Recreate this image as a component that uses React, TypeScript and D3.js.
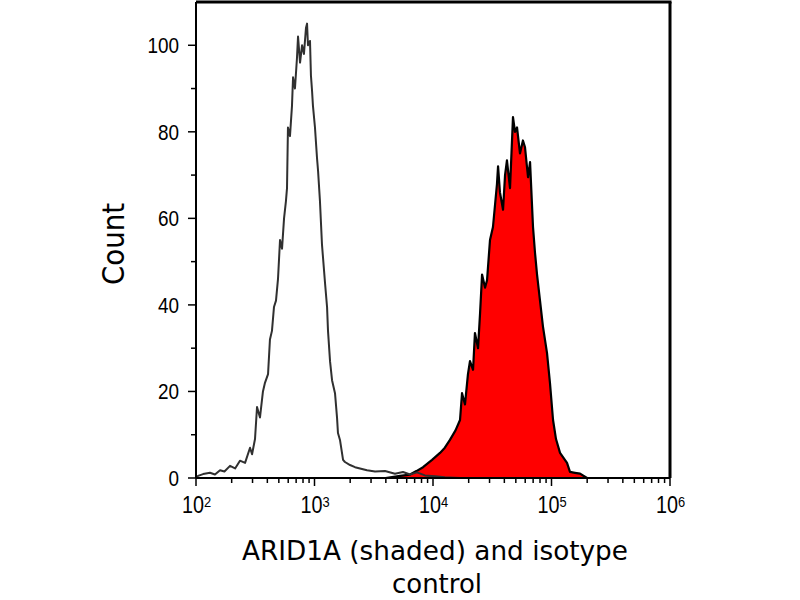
import React from "react";
import * as d3 from "d3";

// Isotype control histogram: log10(intensity), count
const isoExp = [2.0, 2.017, 2.06, 2.118, 2.16, 2.203, 2.24, 2.287, 2.33, 2.371, 2.414, 2.456, 2.473, 2.498, 2.515, 2.54, 2.565, 2.582, 2.608, 2.624, 2.641, 2.658, 2.675, 2.692, 2.709, 2.726, 2.743, 2.759, 2.768, 2.776, 2.793, 2.81, 2.819, 2.835, 2.852, 2.861, 2.878, 2.895, 2.911, 2.928, 2.937, 2.945, 2.962, 2.97, 2.979, 2.987, 3.004, 3.021, 3.03, 3.046, 3.063, 3.089, 3.106, 3.114, 3.131, 3.148, 3.173, 3.19, 3.198, 3.215, 3.241, 3.257, 3.3, 3.342, 3.384, 3.443, 3.511, 3.595, 3.679, 3.747, 3.806, 3.865, 3.932, 4.017, 4.1, 4.228, 5.0, 6.0];
const isoCount = [0, 0.5, 0.9, 1.2, 0.8, 1.8, 1.5, 2.8, 2.2, 4, 3.5, 7, 5.5, 9, 16.4, 14, 20, 22, 24, 32, 34, 39.5, 41, 46, 55, 53, 60, 64, 67, 81, 79, 86, 92.6, 90, 97, 102, 96, 100, 98, 104, 105, 100, 101, 93, 89.6, 86, 81, 74, 71, 64, 54, 45, 39.5, 34, 27, 22.6, 19.6, 14, 10.4, 8.8, 4.2, 3.7, 3, 2.5, 2.2, 1.8, 1.5, 1.6, 1.0, 1.4, 0.8, 1.3, 0.6, 0.4, 0.2, 0, 0, 0];

// ARID1A (shaded) histogram: log10(intensity), count
const argExp = [3.6, 3.722, 3.806, 3.86, 3.916, 3.992, 4.059, 4.1, 4.143, 4.19, 4.228, 4.245, 4.27, 4.295, 4.312, 4.338, 4.354, 4.38, 4.397, 4.414, 4.439, 4.456, 4.481, 4.506, 4.54, 4.549, 4.565, 4.591, 4.608, 4.624, 4.65, 4.675, 4.692, 4.709, 4.734, 4.759, 4.776, 4.802, 4.819, 4.844, 4.861, 4.878, 4.903, 4.928, 4.962, 4.987, 5.013, 5.038, 5.072, 5.131, 5.156, 5.198, 5.241, 5.3];
const argCount = [0, 0.5, 0.8, 1.6, 2.5, 4.2, 5.8, 7, 8.8, 11, 13.4, 19.6, 17, 24, 27, 25, 33.5, 30, 38, 47, 44, 45.7, 55, 58, 68, 72, 66, 62, 70, 73.4, 67, 83.4, 80, 81, 75, 78, 76.5, 69.5, 73, 58, 52, 47, 41, 35, 28.9, 22, 13.4, 9, 5.8, 3.5, 1.4, 1.2, 1, 0];

const yTicks = [0, 20, 40, 60, 80, 100];
const yMinor = [10, 30, 50, 70, 90];
const xDecades = [2, 3, 4, 5, 6];

const xTitle1 = "ARID1A (shaded) and isotype";
const xTitle2 = "control";
const yTitle = "Count";

export default function App() {
  const W = 800, H = 600;
  const left = 196, right = 670, top = 2, bottom = 478;
  const x = d3.scaleLog().domain([1e2, 1e6]).range([left, right]);
  const y = d3.scaleLinear().domain([0, 110]).range([bottom, top]);

  const iso = isoExp.map((e, i) => [10 ** e, isoCount[i]] as [number, number]);
  const arg = argExp.map((e, i) => [10 ** e, argCount[i]] as [number, number]);

  const line = d3.line<[number, number]>().x(d => x(d[0])).y(d => y(d[1]));
  const area = d3.area<[number, number]>().x(d => x(d[0])).y0(y(0)).y1(d => y(d[1]));

  const minor: number[] = [];
  for (let d = 2; d < 6; d++) for (let k = 2; k <= 9; k++) minor.push(k * 10 ** d);

  const tickFont = "'Liberation Sans', Arial, sans-serif";
  const titleFont = "'DejaVu Sans', Verdana, sans-serif";

  return (
    <svg width={W} height={H} style={{ position: "absolute", left: 0, top: 0, background: "#fff" }}>
      <rect x={0} y={0} width={W} height={H} fill="#fff" />
      {/* shaded histogram */}
      <path d={area(arg) || ""} fill="#ff0000" stroke="none" />
      <path d={line(arg) || ""} fill="none" stroke="#000" strokeWidth={2.2} strokeLinejoin="round" />
      {/* isotype */}
      <path d={line(iso) || ""} fill="none" stroke="#303030" strokeWidth={2} strokeLinejoin="round" />

      {/* frame */}
      <line x1={left} x2={right + 1.5} y1={top} y2={top} stroke="#000" strokeWidth={3} />
      <line x1={right} x2={right} y1={top} y2={bottom} stroke="#000" strokeWidth={3} />
      <line x1={left} x2={left} y1={top} y2={bottom} stroke="#000" strokeWidth={2} />
      <line x1={left} x2={right} y1={bottom} y2={bottom} stroke="#000" strokeWidth={2} />

      {/* y ticks */}
      {yTicks.map(t => (
        <g key={"y" + t}>
          <line x1={left - 8} x2={left} y1={y(t)} y2={y(t)} stroke="#000" strokeWidth={1.5} />
          <text transform={`translate(${left - 17},${y(t)}) scale(0.86,1)`} dy="0.36em" textAnchor="end"
            fontSize={22} fontFamily={tickFont}>{t}</text>
        </g>
      ))}
      {yMinor.map(t => (
        <line key={"ym" + t} x1={left - 5} x2={left} y1={y(t)} y2={y(t)} stroke="#000" strokeWidth={1.5} />
      ))}

      {/* x ticks */}
      {xDecades.map(d => (
        <g key={"x" + d}>
          <line x1={x(10 ** d)} x2={x(10 ** d)} y1={bottom} y2={bottom + 8} stroke="#000" strokeWidth={1.5} />
          <text transform={`translate(${x(10 ** d) - 14},${bottom + 35}) scale(0.86,1)`} textAnchor="start"
            fontSize={23} fontFamily={tickFont}>
            10<tspan dy={-6} fontSize={15}>{d}</tspan>
          </text>
        </g>
      ))}
      {minor.map(v => (
        <line key={"xm" + v} x1={x(v)} x2={x(v)} y1={bottom} y2={bottom + 5} stroke="#000" strokeWidth={1.5} />
      ))}

      {/* titles */}
      <text x={435} y={560} textAnchor="middle" fontSize={27} fontFamily={titleFont}
        textLength={386} lengthAdjust="spacingAndGlyphs">{xTitle1}</text>
      <text x={437} y={593} textAnchor="middle" fontSize={27} fontFamily={titleFont}
        textLength={90} lengthAdjust="spacingAndGlyphs">{xTitle2}</text>
      <text transform="translate(124,244) rotate(-90)" textAnchor="middle" fontSize={30} fontFamily={titleFont}
        textLength={82} lengthAdjust="spacingAndGlyphs">{yTitle}</text>
    </svg>
  );
}
